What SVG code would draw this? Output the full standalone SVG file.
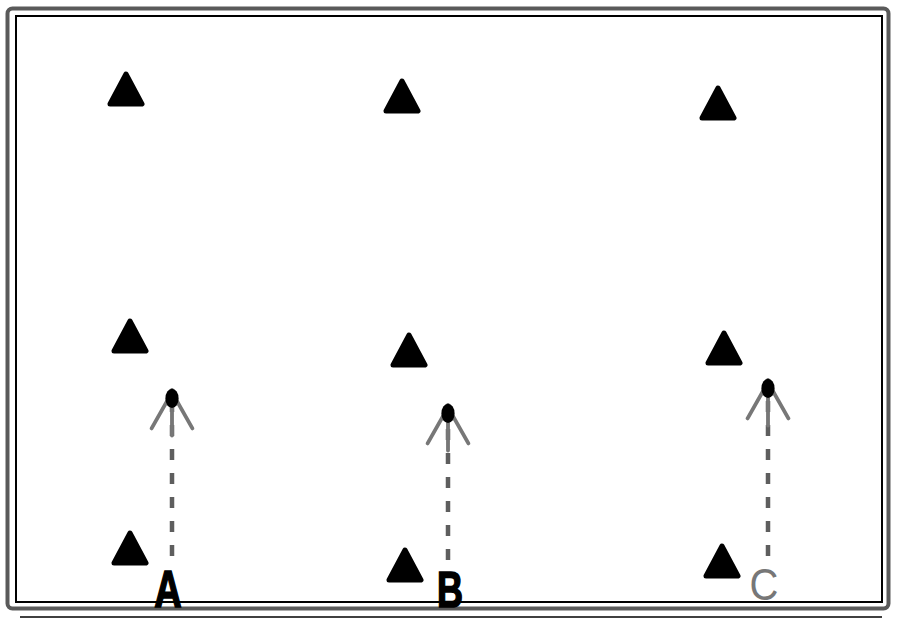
<svg xmlns="http://www.w3.org/2000/svg" width="900" height="620" viewBox="0 0 900 620">
<style>
.frame-outer{fill:none;stroke:#5a5a5a;stroke-width:4}
.frame-inner{fill:none;stroke:#000;stroke-width:2}
.tri{fill:#000;stroke:#000;stroke-width:5;stroke-linejoin:round}
.shaft{fill:none;stroke:#5e5e5e;stroke-width:4.5;stroke-dasharray:11 13}
.lbl{font-family:"Liberation Sans",Arial,sans-serif;text-anchor:middle}
.bold{font-weight:bold;fill:#000;stroke:#000;stroke-width:1.2}
.light{font-weight:normal;fill:#777}
</style>
<defs>
<path id="tri" class="tri" d="M0,3 L16,33 L-16,33 Z"/>
<marker id="head" markerUnits="userSpaceOnUse" orient="auto" refX="0" refY="0" markerWidth="60" markerHeight="60" viewBox="-45 -25 50 50" overflow="visible">
<path d="M-32,-17 L-2,0 L-32,17 M-38,0 L0,0" fill="none" stroke="#777" stroke-width="3.2" stroke-linecap="round"/>
<ellipse cx="-7" cy="0" rx="8" ry="5.5" fill="#000"/>
</marker>
</defs>
<g id="frame">
<rect class="frame-outer" x="7.5" y="8.5" width="881" height="600" rx="5"/>
<rect class="frame-inner" x="16" y="16" width="866" height="586"/>
<line x1="20" y1="617" x2="882" y2="617" stroke="#000" stroke-width="1.5"/>
</g>
<g id="t1"><use href="#tri" x="126" y="71"/></g>
<g id="t2"><use href="#tri" x="402" y="78"/></g>
<g id="t3"><use href="#tri" x="718" y="85"/></g>
<g id="t4"><use href="#tri" x="130" y="318"/></g>
<g id="t5"><use href="#tri" x="409" y="332"/></g>
<g id="t6"><use href="#tri" x="724" y="330"/></g>
<g id="t7"><use href="#tri" x="130" y="530"/></g>
<g id="t8"><use href="#tri" x="405" y="547"/></g>
<g id="t9"><use href="#tri" x="722" y="543"/></g>
<g id="connectors">
<path class="shaft" d="M172,556 L172,390" marker-end="url(#head)"/>
<path class="shaft" d="M448,560 L448,405" marker-end="url(#head)"/>
<path class="shaft" d="M768,556 L768,380" marker-end="url(#head)"/>
</g>
<g id="labelA"><text class="lbl bold" font-size="38" transform="translate(168,607) scale(1,1.38)">A</text></g>
<g id="labelB"><text class="lbl bold" font-size="36" transform="translate(450,607) scale(1,1.4)">B</text></g>
<g id="labelC"><text class="lbl light" font-size="40" transform="translate(764,600) scale(1,1.12)">C</text></g>
</svg>
